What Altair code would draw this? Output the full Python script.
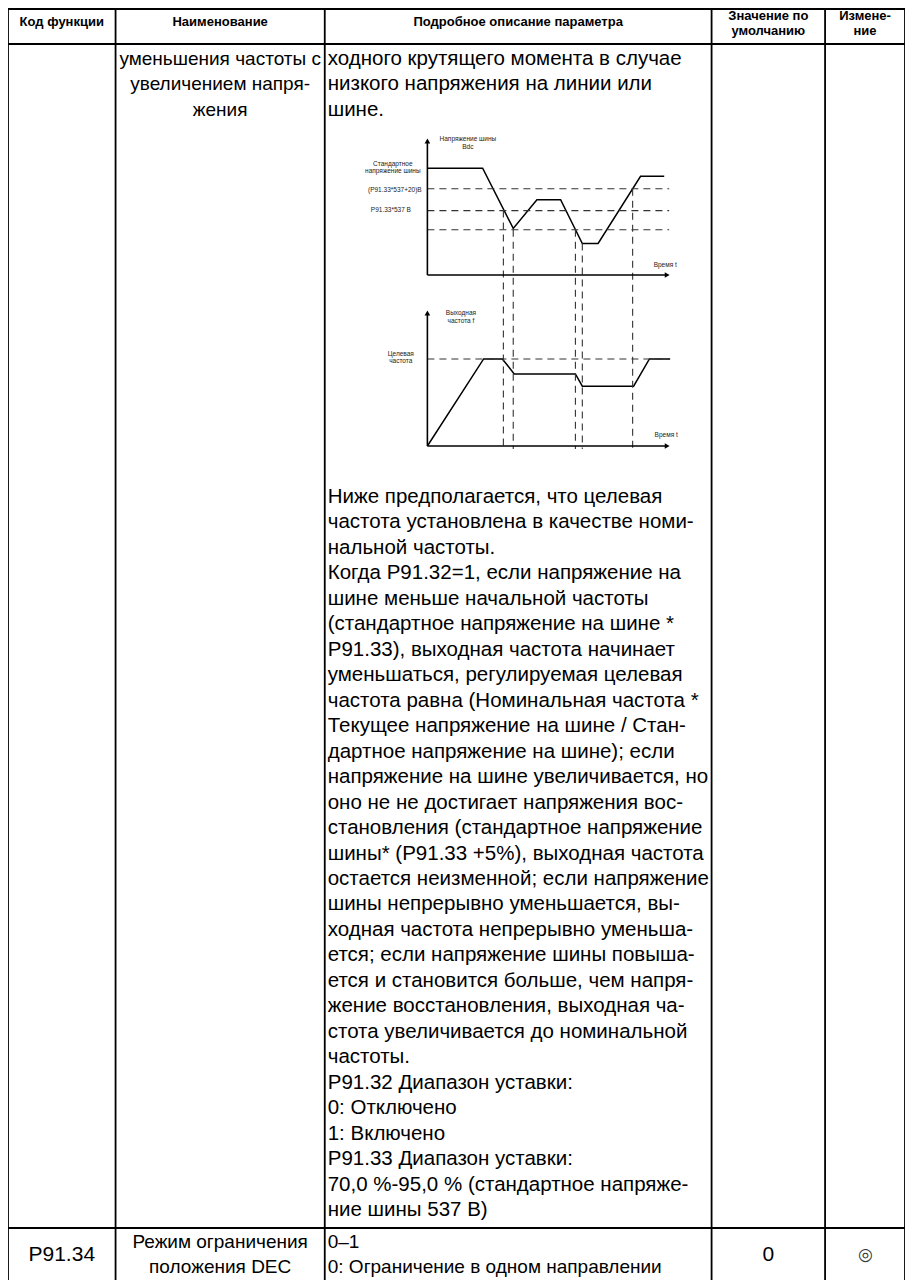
import altair as alt
import pandas as pd

# ---------------- table content ----------------
HEADERS = ["Код функции", "Наименование", "Подробное описание параметра",
           "Значение по\nумолчанию", "Измене-\nние"]
NAME_ROW1 = ["уменьшения частоты с", "увеличением напря-", "жения"]
DESC_TOP = ["ходного крутящего момента в случае",
            "низкого напряжения на линии или",
            "шине."]
DESC_BOTTOM = [
    "Ниже предполагается, что целевая",
    "частота установлена в качестве номи-",
    "нальной частоты.",
    "Когда P91.32=1, если напряжение на",
    "шине меньше начальной частоты",
    "(стандартное напряжение на шине *",
    "P91.33), выходная частота начинает",
    "уменьшаться, регулируемая целевая",
    "частота равна (Номинальная частота *",
    "Текущее напряжение на шине / Стан-",
    "дартное напряжение на шине); если",
    "напряжение на шине увеличивается, но",
    "оно не не достигает напряжения вос-",
    "становления (стандартное напряжение",
    "шины* (P91.33 +5%), выходная частота",
    "остается неизменной; если напряжение",
    "шины непрерывно уменьшается, вы-",
    "ходная частота непрерывно уменьша-",
    "ется; если напряжение шины повыша-",
    "ется и становится больше, чем напря-",
    "жение восстановления, выходная ча-",
    "стота увеличивается до номинальной",
    "частоты.",
    "P91.32 Диапазон уставки:",
    "0: Отключено",
    "1: Включено",
    "P91.33 Диапазон уставки:",
    "70,0 %-95,0 % (стандартное напряже-",
    "ние шины 537 В)",
]
LAST_CODE = "P91.34"
LAST_NAME = ["Режим ограничения", "положения DEC"]
LAST_DESC = ["0–1", "0: Ограничение в одном направлении"]
LAST_DEFAULT = "0"
LAST_CHANGE = "◎"

# ---------------- diagram data (time units, level in % of axis) ----------------
BUS_T = [0, 56, 87, 111, 135, 157, 173, 216, 240]
BUS_V = [78, 78, 34, 55, 55, 23, 23, 72, 72]
BUS_LEVELS = [63, 47, 33]
FREQ_T = [0, 57, 76, 88, 150, 157, 209, 225, 246]
FREQ_F = [0, 64, 64, 53, 53, 44, 44, 64, 64]
TARGET_F = 64
EVENT_T = [77, 87, 150, 157, 208]
EVENT_V = [47, 33, 33, 23, 63]
UP_LABELS = ["Напряжение шины", "Bdc", "Стандартное", "напряжение шины",
             "(P91.33*537+20)B", "P91.33*537 B", "Время t"]
LOW_LABELS = ["Выходная", "частота f", "Целевая", "частота", "Время  t"]

# ---------------- layout ----------------
W, H = 897, 1272
COL_X = [2, 111, 323, 715, 830, 911]
TOP, HEAD_BOTTOM, ROW_BORDER, PAGE_BOTTOM = 9, 44, 1228, 1300
HEAD_MID = 23.5
HEAD_LH = 15
LINE_H = 25.5
ROW1_Y0 = 58.5
DESC2_Y0 = 497
DESC2_Y1 = 1210
DESC_X = 326
FONT = "Liberation Sans, Arial, sans-serif"

AX_X0 = 427          # diagram origin x
T_END = 245          # axis length in time units
UP_Y0, LOW_Y0 = 275, 446
V_PX, F_PX = 1.37, 1.36

XS = alt.Scale(domain=[2, 911], nice=False, zero=False)
YS = alt.Scale(domain=[8, 8 + H], nice=False, zero=False, reverse=True)


def X(f="x"):
    return alt.X(f"{f}:Q", scale=XS, axis=None)


def Y(f="y"):
    return alt.Y(f"{f}:Q", scale=YS, axis=None)


layers = []

# ---- table grid ----
vlines = pd.DataFrame({"x": COL_X, "y": TOP, "y2": PAGE_BOTTOM})
layers.append(alt.Chart(vlines).mark_rule(color="black", strokeWidth=1.8).encode(
    x=X(), y=Y(), y2="y2:Q"))
hlines = pd.DataFrame({"y": [TOP, HEAD_BOTTOM, ROW_BORDER], "x": COL_X[0], "x2": COL_X[-1]})
layers.append(alt.Chart(hlines).mark_rule(color="black", strokeWidth=1.8).encode(
    x=X(), x2="x2:Q", y=Y()))

# ---- header ----
centers = [(COL_X[i] + COL_X[i + 1]) / 2 for i in range(5)]
head_y = [HEAD_MID - (h.count("\n")) * HEAD_LH / 2 - (0 if "\n" in h else 1.5) for h in HEADERS]
head = pd.DataFrame({"text": HEADERS, "x": centers, "y": head_y})
layers.append(alt.Chart(head).mark_text(font=FONT, fontSize=13, fontWeight="bold",
                                        lineBreak="\n", lineHeight=HEAD_LH, align="center",
                                        baseline="middle", color="black").encode(
    x=X(), y=Y(), text="text:N"))

# ---- centred body text ----
last_y = [ROW_BORDER + 14, ROW_BORDER + 39]
name_rows = [{"text": s, "x": centers[1], "y": ROW1_Y0 + i * LINE_H} for i, s in enumerate(NAME_ROW1)]
name_rows += [{"text": s, "x": centers[1], "y": last_y[i]} for i, s in enumerate(LAST_NAME)]
layers.append(alt.Chart(pd.DataFrame(name_rows)).mark_text(
    font=FONT, fontSize=19, align="center", baseline="middle", color="black").encode(
    x=X(), y=Y(), text="text:N"))

cell_rows = [{"text": LAST_CODE, "x": centers[0], "y": sum(last_y) / 2},
             {"text": LAST_DEFAULT, "x": centers[3], "y": sum(last_y) / 2}]
layers.append(alt.Chart(pd.DataFrame(cell_rows)).mark_text(
    font=FONT, fontSize=21, align="center", baseline="middle", color="black").encode(
    x=X(), y=Y(), text="text:N"))
layers.append(alt.Chart(pd.DataFrame([{"text": LAST_CHANGE, "x": centers[4], "y": sum(last_y) / 2}]))
              .mark_text(font=FONT, fontSize=17, align="center", baseline="middle",
                         color="#333").encode(x=X(), y=Y(), text="text:N"))

# ---- left-aligned description ----
step2 = (DESC2_Y1 - DESC2_Y0) / (len(DESC_BOTTOM) - 1)
left_rows = [{"text": s, "x": DESC_X, "y": ROW1_Y0 + i * LINE_H} for i, s in enumerate(DESC_TOP)]
left_rows += [{"text": s, "x": DESC_X, "y": DESC2_Y0 + i * step2} for i, s in enumerate(DESC_BOTTOM)]
layers.append(alt.Chart(pd.DataFrame(left_rows)).mark_text(
    font=FONT, fontSize=20.5, align="left", baseline="middle", color="black").encode(
    x=X(), y=Y(), text="text:N"))
last_desc = [{"text": s, "x": DESC_X, "y": last_y[i]} for i, s in enumerate(LAST_DESC)]
layers.append(alt.Chart(pd.DataFrame(last_desc)).mark_text(
    font=FONT, fontSize=19, align="left", baseline="middle", color="black").encode(
    x=X(), y=Y(), text="text:N"))

# ---- diagram ----
bus = pd.DataFrame({"t": BUS_T, "v": BUS_V, "i": range(len(BUS_T))})
layers.append(alt.Chart(bus).transform_calculate(
    x=f"{AX_X0} + datum.t", y=f"{UP_Y0} - datum.v * {V_PX}").mark_line(
    color="black", strokeWidth=1.5).encode(x=X(), y=Y(), order="i:Q"))

freq = pd.DataFrame({"t": FREQ_T, "f": FREQ_F, "i": range(len(FREQ_T))})
layers.append(alt.Chart(freq).transform_calculate(
    x=f"{AX_X0} + datum.t", y=f"{LOW_Y0} - datum.f * {F_PX}").mark_line(
    color="black", strokeWidth=1.5).encode(x=X(), y=Y(), order="i:Q"))

lev = pd.DataFrame({"v": BUS_LEVELS})
layers.append(alt.Chart(lev).transform_calculate(
    x=f"{AX_X0}", x2=f"{AX_X0} + {T_END}", y=f"{UP_Y0} - datum.v * {V_PX}").mark_rule(
    color="#333", strokeWidth=1.1, strokeDash=[7, 5]).encode(x=X(), x2="x2:Q", y=Y()))

tgt = pd.DataFrame({"f": [TARGET_F]})
layers.append(alt.Chart(tgt).transform_calculate(
    x=f"{AX_X0}", x2=f"{AX_X0} + {T_END}", y=f"{LOW_Y0} - datum.f * {F_PX}").mark_rule(
    color="#333", strokeWidth=1.1, strokeDash=[7, 5]).encode(x=X(), x2="x2:Q", y=Y()))

ev = pd.DataFrame({"t": EVENT_T, "v": EVENT_V})
layers.append(alt.Chart(ev).transform_calculate(
    x=f"{AX_X0} + datum.t", y=f"{UP_Y0} - datum.v * {V_PX}", y2=f"{LOW_Y0} + 3").mark_rule(
    color="#333", strokeWidth=1.1, strokeDash=[7, 5]).encode(x=X(), y=Y(), y2="y2:Q"))

# axes
axes = pd.DataFrame({
    "x": [AX_X0, AX_X0, AX_X0, AX_X0],
    "x2": [AX_X0, AX_X0 + T_END - 3, AX_X0, AX_X0 + T_END - 3],
    "y": [UP_Y0, UP_Y0, LOW_Y0, LOW_Y0],
    "y2": [UP_Y0 - 134, UP_Y0, LOW_Y0 - 133, LOW_Y0],
})
layers.append(alt.Chart(axes).mark_rule(color="black", strokeWidth=1.6).encode(
    x=X(), x2="x2:Q", y=Y(), y2="y2:Q"))
up_tips = pd.DataFrame({"x": [AX_X0, AX_X0], "y": [UP_Y0 - 134, LOW_Y0 - 133]})
layers.append(alt.Chart(up_tips).mark_point(shape="triangle-up", filled=True, size=32,
                                            color="black", opacity=1).encode(x=X(), y=Y()))
rt_tips = pd.DataFrame({"x": [AX_X0 + T_END - 2, AX_X0 + T_END - 2], "y": [UP_Y0, LOW_Y0]})
layers.append(alt.Chart(rt_tips).mark_point(shape="triangle-right", filled=True, size=32,
                                            color="black", opacity=1).encode(x=X(), y=Y()))

# labels
lab = pd.DataFrame({
    "text": UP_LABELS + LOW_LABELS,
    "x": [468, 468, 392, 392, 394, 390, 668, 461, 461, 400, 400, 669],
    "y": [139, 147, 164, 171, 190, 210, 265, 313, 321, 354, 361, 435],
})
layers.append(alt.Chart(lab).mark_text(font=FONT, fontSize=6.5, align="center",
                                       baseline="middle", color="#222").encode(
    x=X(), y=Y(), text="text:N"))

chart = alt.layer(*layers).properties(
    width=W, height=H, padding=0, autosize="none", background="white"
).configure_view(stroke=None)

chart.save("out.html", embed_options={"renderer": "svg", "actions": False})
